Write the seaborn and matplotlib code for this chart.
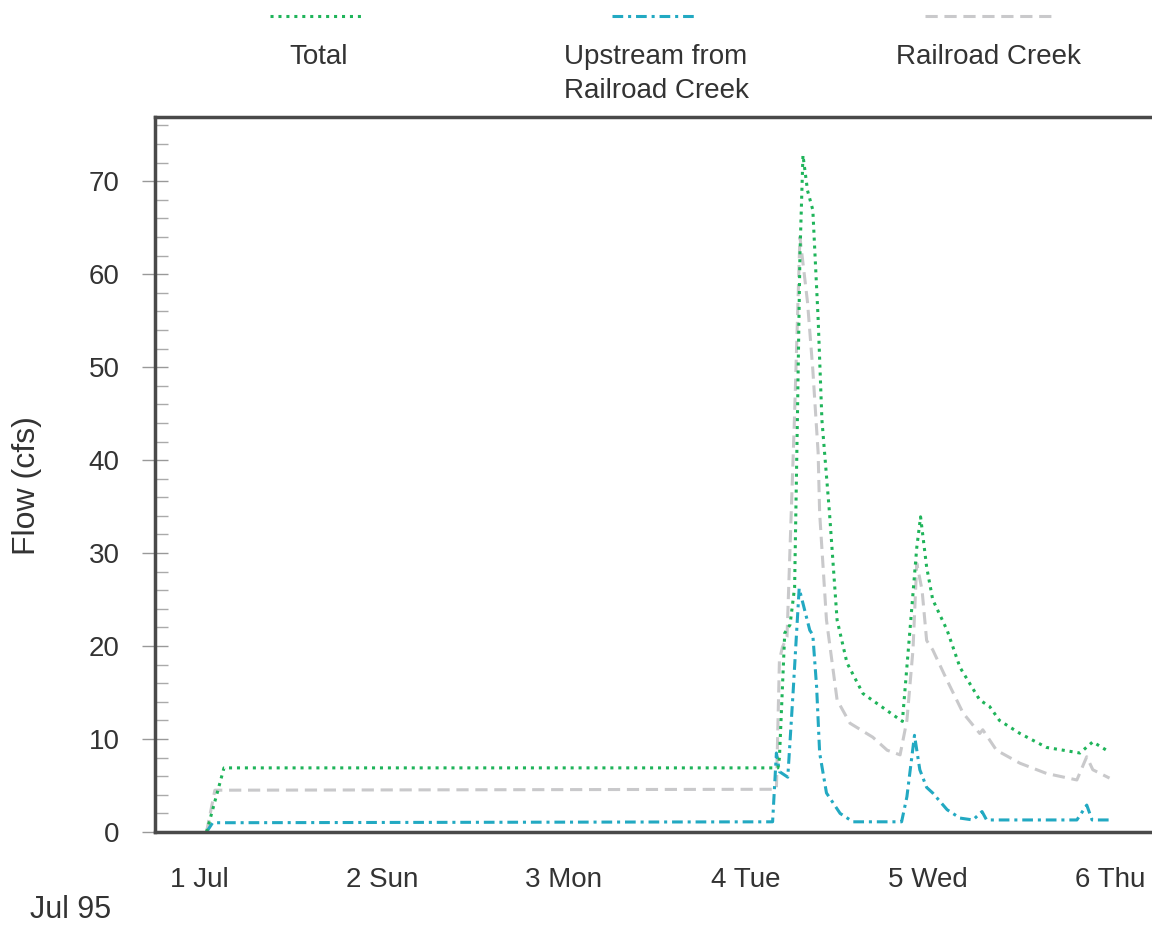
"""Flow at the Railroad Creek confluence, 1-6 July 1995 (hourly trace)."""

import matplotlib

matplotlib.use("Agg")

import matplotlib.pyplot as plt
import seaborn as sns
from matplotlib.lines import Line2D
from matplotlib.ticker import MultipleLocator

# Hours since 1 Jul 1995 00:00, and flow (cfs).
total_hours = [0.9, 3.2, 76.2, 76.4, 77.1, 77.8, 78.4, 78.8, 79.1, 79.5, 80.1, 80.8,
               81.5, 82.0, 83.0, 84.0, 85.3, 87.4, 90.0, 92.6, 93.6, 94.5, 95.0,
               95.8, 96.6, 98.5, 100.2, 102.8, 104.1, 105.4, 108.1, 111.6, 116.0,
               117.7, 119.9]
total_flow = [0.0, 6.9, 6.9, 8.0, 21.4, 22.3, 26.3, 46.0, 62.0, 72.8, 69.0, 66.9,
              55.2, 44.3, 34.3, 22.8, 18.2, 14.9, 13.4, 11.9, 21.7, 30.6, 33.9,
              28.5, 25.0, 21.7, 17.7, 14.2, 13.5, 12.0, 10.6, 9.1, 8.5,
              9.7, 8.6]

upstream_hours = [0.9, 1.7, 75.5, 76.0, 76.4, 77.5, 78.2, 79.0, 80.4, 80.8, 81.3,
                  81.7, 82.6, 84.4, 86.1, 92.5, 93.2, 94.2, 94.9, 95.8, 96.6,
                  98.5, 100.2, 101.9, 103.1, 103.7, 115.6, 116.9, 117.6, 119.9]
upstream_flow = [0.0, 1.0, 1.1, 8.5, 6.5, 5.9, 15.0, 26.2, 21.7, 21.2, 15.6,
                 8.5, 4.2, 2.0, 1.1, 1.1, 3.8, 10.4, 6.7, 4.8, 4.2,
                 2.4, 1.5, 1.3, 2.2, 1.3, 1.3, 2.9, 1.3, 1.3]

railroad_hours = [0.9, 2.0, 76.0, 76.4, 76.8, 77.4, 78.4, 79.1, 80.1, 80.8, 81.5,
                  81.7, 82.6, 84.0, 85.7, 88.7, 90.6, 92.3, 93.2, 94.0, 94.5,
                  95.2, 95.8, 96.6, 98.5, 100.6, 102.8, 103.2, 105.0, 108.1,
                  111.6, 115.6, 116.9, 117.7, 119.9]
railroad_flow = [0.0, 4.5, 4.6, 18.5, 19.9, 21.0, 45.0, 64.0, 57.0, 49.7, 40.8,
                 34.3, 22.8, 14.2, 11.7, 10.2, 8.8, 8.3, 12.0, 19.6, 28.9,
                 26.0, 20.6, 19.6, 16.3, 12.8, 10.6, 11.0, 8.8, 7.4,
                 6.3, 5.6, 8.1, 6.7, 5.8]

day_ticks = [0, 24, 48, 72, 96, 120]
day_labels = ["1 Jul", "2 Sun", "3 Mon", "4 Tue", "5 Wed", "6 Thu"]

GREEN = "#1fb45a"
TEAL = "#22a9c2"
GRAY = "#c9c9cb"
INK = "#333333"

sns.set_theme(style="white")
plt.rcParams["font.family"] = ["Liberation Sans", "DejaVu Sans"]

fig = plt.figure(figsize=(11.52, 9.25), dpi=100)
ax = fig.add_axes([0.1345, 0.1005, 0.8655, 0.773])

# Draw railroad first so the other two sit on top of it.
sns.lineplot(x=railroad_hours, y=railroad_flow, ax=ax, color=GRAY, linewidth=2.2,
             linestyle=(0, (4, 2.2)))
sns.lineplot(x=upstream_hours, y=upstream_flow, ax=ax, color=TEAL, linewidth=2.2,
             linestyle=(0, (3.5, 1.6, 1, 1.6)))
sns.lineplot(x=total_hours, y=total_flow, ax=ax, color=GREEN, linewidth=2.2,
             linestyle=(0, (1, 1.6)))

ax.set_xlim(-5.9, 125.5)
ax.set_ylim(0, 76.9)

ax.set_xticks(day_ticks)
ax.set_xticklabels(day_labels)
ax.yaxis.set_major_locator(MultipleLocator(10))
ax.yaxis.set_minor_locator(MultipleLocator(2))
ax.tick_params(axis="x", which="major", direction="inout", length=27, width=1,
               color="#999999", labelsize=20, labelcolor=INK, pad=12)
ax.tick_params(axis="y", which="major", direction="inout", length=19, width=1,
               color="#999999", labelsize=20, labelcolor=INK, pad=16, left=True)
ax.tick_params(axis="y", which="minor", direction="in", length=9, width=1,
               color="#aaaaaa", left=True)

for side in ("left", "top", "bottom"):
    ax.spines[side].set_color("#4a4a4a")
    ax.spines[side].set_linewidth(2.5)
ax.spines["right"].set_visible(False)

ax.set_xlabel("")
ax.set_ylabel("Flow (cfs)", fontsize=23, color=INK)
ax.yaxis.set_label_coords(-0.113, 0.485)

fig.text(0.026, 1 - 910 / 925, "Jul 95", fontsize=22, color=INK,
         ha="left", va="center")

# Legend: line sample above each label, spread across the top.
legend_items = [
    ("Total", GREEN, (0, (1, 1.6)), 270, 365, 319),
    ("Upstream from\nRailroad Creek", TEAL, (0, (3.5, 1.6, 1, 1.6)), 612, 698, 656),
    ("Railroad Creek", GRAY, (0, (4, 2.2)), 925, 1052, 989),
]
W, H = 1152, 925
for label, color, dash, x0, x1, xc in legend_items:
    fig.add_artist(Line2D([x0 / W, x1 / W], [1 - 16 / H, 1 - 16 / H],
                          transform=fig.transFigure, color=color, linewidth=2.2,
                          linestyle=dash))
    fig.text(xc / W, 1 - 44 / H, label, fontsize=20, color=INK, ha="center",
             va="top", linespacing=1.4)

fig.savefig("out.png", dpi=100)
